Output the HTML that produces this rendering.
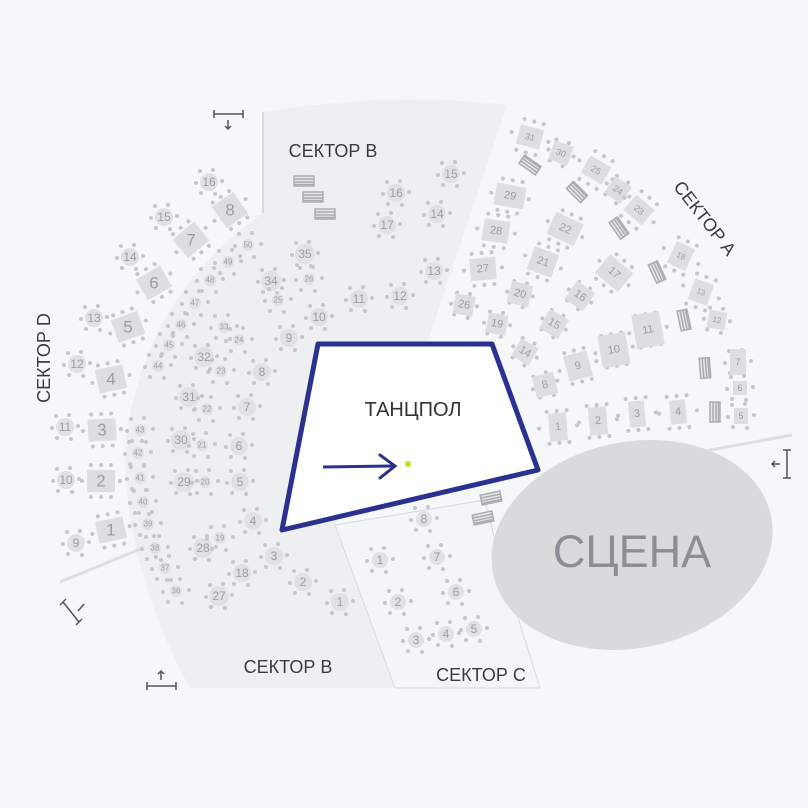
<!DOCTYPE html>
<html><head><meta charset="utf-8"><style>
html,body{margin:0;padding:0;background:#f6f7f9;}
svg{display:block;font-family:"Liberation Sans",sans-serif;}
.n{fill:#9a9ea4;text-anchor:middle;dominant-baseline:central;}
.rt{fill:#dcdee1;}
.ct{fill:#dfe1e4;}
.lb{fill:#3a3c40;font-size:18px;text-anchor:middle;}
</style></head><body>
<svg width="808" height="808" viewBox="0 0 808 808" xmlns="http://www.w3.org/2000/svg">
<defs>
<g id="rd" fill="#c3c6ca"><circle cx="-9" cy="-11" r="2"/><circle cx="4" cy="-12" r="2"/><circle cx="-13" cy="1" r="2"/><circle cx="13" cy="-1" r="2"/><circle cx="-8" cy="11" r="2"/><circle cx="6" cy="12" r="2"/></g>
<g id="rr" fill="#c3c6ca"><circle cx="-10" cy="-16" r="2"/><circle cx="0" cy="-16" r="2"/><circle cx="10" cy="-16" r="2"/><circle cx="-10" cy="16" r="2"/><circle cx="0" cy="16" r="2"/><circle cx="10" cy="16" r="2"/><circle cx="-19" cy="0" r="2"/><circle cx="19" cy="0" r="2"/></g>
<g id="bh" fill="none" stroke="#a9adb2" stroke-width="1.5"><rect x="-10" y="-5" width="20" height="10" fill="#e4e6e8"/><line x1="-10" y1="-2" x2="10" y2="-2"/><line x1="-10" y1="1" x2="10" y2="1"/><line x1="-10" y1="3.5" x2="10" y2="3.5"/></g>
<g id="bv" fill="none" stroke="#a9adb2" stroke-width="1.5"><rect x="-5" y="-10" width="10" height="20" fill="#e4e6e8"/><line x1="-2" y1="-10" x2="-2" y2="10"/><line x1="1" y1="-10" x2="1" y2="10"/><line x1="3.5" y1="-10" x2="3.5" y2="10"/></g>
</defs>
<rect width="808" height="808" fill="#f6f7f9"/>
<!-- sector B area -->
<path d="M263,112 Q390,92 507,105 L430,335 L335,525 L395,688 L190,688 Q125,570 125,450 Q140,300 263,213 Z" fill="#eeeff1"/>
<line x1="263" y1="112" x2="263" y2="213" stroke="#d8dadd" stroke-width="2"/>
<!-- sector C -->
<path d="M335,525 L485,500 L500,560 L540,688 L395,688 Z" fill="#f4f5f7" stroke="#d6d8db" stroke-width="1"/>
<line x1="700" y1="452" x2="792" y2="435" stroke="#dcdee1" stroke-width="3"/>
<line x1="60" y1="582" x2="143" y2="548" stroke="#dcdee1" stroke-width="3"/>
<!-- stage -->
<ellipse cx="632" cy="545" rx="142" ry="103" transform="rotate(-12 632 545)" fill="#d9dadc"/>
<text x="632" y="567" font-size="45" fill="#8a8f96" text-anchor="middle">СЦЕНА</text>
<!-- dance floor -->
<polygon points="318,344 492,344 538,470 282,530" fill="#fff" stroke="#2b3190" stroke-width="5" stroke-linejoin="round"/>
<text x="413" y="416" font-size="20" fill="#333" text-anchor="middle">ТАНЦПОЛ</text>
<line x1="323" y1="467" x2="393" y2="466" stroke="#2b3190" stroke-width="3"/>
<polyline points="380,455 395,466 380,478" fill="none" stroke="#2b3190" stroke-width="3" stroke-linecap="round"/>
<circle cx="408" cy="464" r="3" fill="#b6e11b"/>
<!-- labels -->
<text class="lb" x="333" y="157">СЕКТОР В</text>
<text class="lb" x="288" y="673">СЕКТОР В</text>
<text class="lb" x="481" y="681">СЕКТОР С</text>
<text class="lb" transform="translate(700,222) rotate(52)">СЕКТОР А</text>
<text class="lb" transform="translate(50,358) rotate(-90)">СЕКТОР D</text>
<!-- icons -->
<g stroke="#555" stroke-width="1.5" fill="none">
<path d="M214,114 H243 M214,110 V118 M243,110 V118"/><path d="M228,120 V129 M225,126 L228,129 L231,126"/>
<path d="M147,686 H176 M147,682 V690 M176,682 V690"/><path d="M161,680 V671 M158,674 L161,671 L164,674"/>
<path d="M787,450 V478 M783,450 H791 M783,478 H791"/><path d="M780,464 H772 M775,461 L772,464 L775,467"/>
<path d="M63,602 L79,622 M60,605 L66,599 M76,625 L82,619"/><path d="M78,611 L84,604"/>
</g>
<!-- Sector D rect tables -->
<g font-size="17">
<g transform="translate(230,210) rotate(-35)"><use href="#rr"/><rect class="rt" x="-13" y="-13" width="26" height="26"/><text class="n" transform="rotate(35)">8</text></g>
<g transform="translate(191,240) rotate(-40)"><use href="#rr"/><rect class="rt" x="-14" y="-12" width="28" height="24"/><text class="n" transform="rotate(40)">7</text></g>
<g transform="translate(154,283) rotate(-30)"><use href="#rr"/><rect class="rt" x="-14" y="-12" width="28" height="24"/><text class="n" transform="rotate(30)">6</text></g>
<g transform="translate(128,327) rotate(-20)"><use href="#rr"/><rect class="rt" x="-14" y="-12" width="28" height="24"/><text class="n" transform="rotate(20)">5</text></g>
<g transform="translate(111,379) rotate(-12)"><use href="#rr"/><rect class="rt" x="-14" y="-12" width="28" height="24"/><text class="n" transform="rotate(12)">4</text></g>
<g transform="translate(102,430) rotate(-3)"><use href="#rr"/><rect class="rt" x="-14" y="-11" width="28" height="22"/><text class="n">3</text></g>
<g transform="translate(101,481)"><use href="#rr"/><rect class="rt" x="-14" y="-11" width="28" height="22"/><text class="n">2</text></g>
<g transform="translate(111,530) rotate(-12)"><use href="#rr"/><rect class="rt" x="-14" y="-11" width="28" height="22"/><text class="n" transform="rotate(12)">1</text></g>
</g>
<g font-size="12">
<g transform="translate(209,182)"><use href="#rd"/><circle class="ct" r="9"/><text class="n">16</text></g>
<g transform="translate(164,217)"><use href="#rd"/><circle class="ct" r="9"/><text class="n">15</text></g>
<g transform="translate(130,257)"><use href="#rd"/><circle class="ct" r="9"/><text class="n">14</text></g>
<g transform="translate(94,318)"><use href="#rd"/><circle class="ct" r="9"/><text class="n">13</text></g>
<g transform="translate(77,364)"><use href="#rd"/><circle class="ct" r="9"/><text class="n">12</text></g>
<g transform="translate(65,427)"><use href="#rd"/><circle class="ct" r="9"/><text class="n">11</text></g>
<g transform="translate(66,480)"><use href="#rd"/><circle class="ct" r="9"/><text class="n">10</text></g>
<g transform="translate(76,543)"><use href="#rd"/><circle class="ct" r="9"/><text class="n">9</text></g>
<!-- Sector B -->
<g transform="translate(305,254)"><use href="#rd"/><circle class="ct" r="10"/><text class="n">35</text></g>
<g transform="translate(271,281)"><use href="#rd"/><circle class="ct" r="10"/><text class="n">34</text></g>
<g transform="translate(359,299)"><use href="#rd"/><circle class="ct" r="9"/><text class="n">11</text></g>
<g transform="translate(400,296)"><use href="#rd"/><circle class="ct" r="9"/><text class="n">12</text></g>
<g transform="translate(434,271)"><use href="#rd"/><circle class="ct" r="9"/><text class="n">13</text></g>
<g transform="translate(319,317)"><use href="#rd"/><circle class="ct" r="9"/><text class="n">10</text></g>
<g transform="translate(289,338)"><use href="#rd"/><circle class="ct" r="9"/><text class="n">9</text></g>
<g transform="translate(262,372)"><use href="#rd"/><circle class="ct" r="9"/><text class="n">8</text></g>
<g transform="translate(247,407)"><use href="#rd"/><circle class="ct" r="9"/><text class="n">7</text></g>
<g transform="translate(239,446)"><use href="#rd"/><circle class="ct" r="9"/><text class="n">6</text></g>
<g transform="translate(240,482)"><use href="#rd"/><circle class="ct" r="9"/><text class="n">5</text></g>
<g transform="translate(253,521)"><use href="#rd"/><circle class="ct" r="9"/><text class="n">4</text></g>
<g transform="translate(274,556)"><use href="#rd"/><circle class="ct" r="9"/><text class="n">3</text></g>
<g transform="translate(303,582)"><use href="#rd"/><circle class="ct" r="9"/><text class="n">2</text></g>
<g transform="translate(340,602)"><use href="#rd"/><circle class="ct" r="9"/><text class="n">1</text></g>
<g transform="translate(396,193)"><use href="#rd"/><circle class="ct" r="9"/><text class="n">16</text></g>
<g transform="translate(387,225)"><use href="#rd"/><circle class="ct" r="9"/><text class="n">17</text></g>
<g transform="translate(451,174)"><use href="#rd"/><circle class="ct" r="9"/><text class="n">15</text></g>
<g transform="translate(437,214)"><use href="#rd"/><circle class="ct" r="9"/><text class="n">14</text></g>
<g transform="translate(204,357)"><use href="#rd"/><circle class="ct" r="10"/><text class="n">32</text></g>
<g transform="translate(189,397)"><use href="#rd"/><circle class="ct" r="10"/><text class="n">31</text></g>
<g transform="translate(181,440)"><use href="#rd"/><circle class="ct" r="10"/><text class="n">30</text></g>
<g transform="translate(184,482)"><use href="#rd"/><circle class="ct" r="10"/><text class="n">29</text></g>
<g transform="translate(203,548)"><use href="#rd"/><circle class="ct" r="10"/><text class="n">28</text></g>
<g transform="translate(242,573)"><use href="#rd"/><circle class="ct" r="9"/><text class="n">18</text></g>
<g transform="translate(219,596)"><use href="#rd"/><circle class="ct" r="10"/><text class="n">27</text></g>
<!-- Sector C -->
<g transform="translate(424,519)"><use href="#rd"/><circle class="ct" r="8"/><text class="n">8</text></g>
<g transform="translate(437,557)"><use href="#rd"/><circle class="ct" r="8"/><text class="n">7</text></g>
<g transform="translate(456,592)"><use href="#rd"/><circle class="ct" r="8"/><text class="n">6</text></g>
<g transform="translate(474,629)"><use href="#rd"/><circle class="ct" r="8"/><text class="n">5</text></g>
<g transform="translate(446,634)"><use href="#rd"/><circle class="ct" r="8"/><text class="n">4</text></g>
<g transform="translate(416,640)"><use href="#rd"/><circle class="ct" r="8"/><text class="n">3</text></g>
<g transform="translate(398,602)"><use href="#rd"/><circle class="ct" r="8"/><text class="n">2</text></g>
<g transform="translate(380,560)"><use href="#rd"/><circle class="ct" r="8"/><text class="n">1</text></g>
</g>
<g font-size="8">
<g transform="translate(248,245)"><use href="#rd"/><circle class="ct" r="6"/><text class="n">50</text></g>
<g transform="translate(228,262)"><use href="#rd"/><circle class="ct" r="6"/><text class="n">49</text></g>
<g transform="translate(210,280)"><use href="#rd"/><circle class="ct" r="6"/><text class="n">48</text></g>
<g transform="translate(195,303)"><use href="#rd"/><circle class="ct" r="6"/><text class="n">47</text></g>
<g transform="translate(181,325)"><use href="#rd"/><circle class="ct" r="6"/><text class="n">46</text></g>
<g transform="translate(169,345)"><use href="#rd"/><circle class="ct" r="6"/><text class="n">45</text></g>
<g transform="translate(158,366)"><use href="#rd"/><circle class="ct" r="6"/><text class="n">44</text></g>
<g transform="translate(140,430)"><use href="#rd"/><circle class="ct" r="6"/><text class="n">43</text></g>
<g transform="translate(138,453)"><use href="#rd"/><circle class="ct" r="6"/><text class="n">42</text></g>
<g transform="translate(140,478)"><use href="#rd"/><circle class="ct" r="6"/><text class="n">41</text></g>
<g transform="translate(143,502)"><use href="#rd"/><circle class="ct" r="6"/><text class="n">40</text></g>
<g transform="translate(148,524)"><use href="#rd"/><circle class="ct" r="6"/><text class="n">39</text></g>
<g transform="translate(155,548)"><use href="#rd"/><circle class="ct" r="6"/><text class="n">38</text></g>
<g transform="translate(165,568)"><use href="#rd"/><circle class="ct" r="6"/><text class="n">37</text></g>
<g transform="translate(176,591)"><use href="#rd"/><circle class="ct" r="6"/><text class="n">36</text></g>
<g transform="translate(309,279)"><use href="#rd"/><circle class="ct" r="6"/><text class="n">26</text></g>
<g transform="translate(278,300)"><use href="#rd"/><circle class="ct" r="6"/><text class="n">25</text></g>
<g transform="translate(224,327)"><use href="#rd"/><circle class="ct" r="6"/><text class="n">33</text></g>
<g transform="translate(239,340)"><use href="#rd"/><circle class="ct" r="6"/><text class="n">24</text></g>
<g transform="translate(221,371)"><use href="#rd"/><circle class="ct" r="6"/><text class="n">23</text></g>
<g transform="translate(207,409)"><use href="#rd"/><circle class="ct" r="6"/><text class="n">22</text></g>
<g transform="translate(202,445)"><use href="#rd"/><circle class="ct" r="6"/><text class="n">21</text></g>
<g transform="translate(205,482)"><use href="#rd"/><circle class="ct" r="6"/><text class="n">20</text></g>
<g transform="translate(220,538)"><use href="#rd"/><circle class="ct" r="6"/><text class="n">19</text></g>
</g>
<!-- benches -->
<use href="#bh" x="304" y="181"/><use href="#bh" x="313" y="197"/><use href="#bh" x="325" y="214"/>
<use href="#bh" transform="translate(491,498) rotate(-12)"/><use href="#bh" transform="translate(483,518) rotate(-12)"/>
<use href="#bv" transform="translate(530,165) rotate(-55)"/>
<use href="#bv" transform="translate(577,192) rotate(-45)"/>
<use href="#bv" transform="translate(619,228) rotate(-35)"/>
<use href="#bv" transform="translate(657,272) rotate(-25)"/>
<use href="#bv" transform="translate(684,320) rotate(-12)"/>
<use href="#bv" transform="translate(705,368) rotate(-5)"/>
<use href="#bv" transform="translate(715,412)"/>
<!-- Sector A tables -->
<g font-size="11">
<g transform="translate(530,137) rotate(15)"><use href="#rr"/><rect class="rt" x="-12" y="-10" width="24" height="20"/><text class="n" font-size="9">31</text></g>
<g transform="translate(561,153) rotate(20)"><use href="#rd"/><rect class="rt" x="-10" y="-10" width="20" height="20"/><text class="n" font-size="9">30</text></g>
<g transform="translate(596,170) rotate(30)"><use href="#rr"/><rect class="rt" x="-12" y="-10" width="24" height="20"/><text class="n" font-size="9">25</text></g>
<g transform="translate(618,190) rotate(35)"><use href="#rd"/><rect class="rt" x="-10" y="-10" width="20" height="20"/><text class="n" font-size="9">24</text></g>
<g transform="translate(639,210) rotate(40)"><use href="#rr"/><rect class="rt" x="-12" y="-10" width="24" height="20"/><text class="n" font-size="9">23</text></g>
<g transform="translate(510,196) rotate(10)"><use href="#rr"/><rect class="rt" x="-15" y="-11" width="30" height="22"/><text class="n">29</text></g>
<g transform="translate(496,231) rotate(8)"><use href="#rr"/><rect class="rt" x="-13" y="-11" width="26" height="22"/><text class="n">28</text></g>
<g transform="translate(483,269) rotate(-5)"><use href="#rr"/><rect class="rt" x="-13" y="-11" width="26" height="22"/><text class="n">27</text></g>
<g transform="translate(464,305) rotate(10)"><use href="#rd"/><rect class="rt" x="-10" y="-10" width="20" height="20"/><text class="n">26</text></g>
<g transform="translate(565,229) rotate(25)"><use href="#rr"/><rect class="rt" x="-15" y="-12" width="30" height="24"/><text class="n">22</text></g>
<g transform="translate(543,262) rotate(20)"><use href="#rr"/><rect class="rt" x="-13" y="-12" width="26" height="24"/><text class="n">21</text></g>
<g transform="translate(520,294) rotate(15)"><use href="#rd"/><rect class="rt" x="-11" y="-11" width="22" height="22"/><text class="n">20</text></g>
<g transform="translate(497,324) rotate(10)"><use href="#rd"/><rect class="rt" x="-10" y="-10" width="20" height="20"/><text class="n">19</text></g>
<g transform="translate(614,273) rotate(40)"><use href="#rr"/><rect class="rt" x="-15" y="-12" width="30" height="24"/><text class="n">17</text></g>
<g transform="translate(580,296) rotate(35)"><use href="#rd"/><rect class="rt" x="-11" y="-11" width="22" height="22"/><text class="n">16</text></g>
<g transform="translate(554,324) rotate(30)"><use href="#rd"/><rect class="rt" x="-11" y="-11" width="22" height="22"/><text class="n">15</text></g>
<g transform="translate(525,352) rotate(30)"><use href="#rd"/><rect class="rt" x="-10" y="-10" width="20" height="20"/><text class="n">14</text></g>
<g transform="translate(681,256) rotate(25)"><use href="#rr"/><rect class="rt" x="-10" y="-12" width="20" height="24"/><text class="n" font-size="8">18</text></g>
<g transform="translate(701,292) rotate(20)"><use href="#rr"/><rect class="rt" x="-10" y="-11" width="20" height="22"/><text class="n" font-size="8">13</text></g>
<g transform="translate(717,320) rotate(10)"><use href="#rd"/><rect class="rt" x="-9" y="-9" width="18" height="18"/><text class="n" font-size="8">12</text></g>
<g transform="translate(648,330) rotate(-10)"><use href="#rr"/><rect class="rt" x="-14" y="-17" width="28" height="34"/><text class="n">11</text></g>
<g transform="translate(614,350) rotate(-10)"><use href="#rr"/><rect class="rt" x="-14" y="-16" width="28" height="32"/><text class="n">10</text></g>
<g transform="translate(578,366) rotate(-15)"><use href="#rr"/><rect class="rt" x="-12" y="-13" width="24" height="26"/><text class="n">9</text></g>
<g transform="translate(545,385) rotate(-15)"><use href="#rd"/><rect class="rt" x="-11" y="-11" width="22" height="22"/><text class="n">8</text></g>
<g transform="translate(738,362)"><use href="#rd"/><rect class="rt" x="-8" y="-13" width="16" height="26"/><text class="n" font-size="9">7</text></g>
<g transform="translate(740,388)"><use href="#rd"/><rect class="rt" x="-7" y="-7" width="14" height="14"/><text class="n" font-size="9">6</text></g>
<g transform="translate(741,416)"><use href="#rd"/><rect class="rt" x="-7" y="-8" width="14" height="16"/><text class="n" font-size="9">5</text></g>
<g transform="translate(678,412) rotate(-5)"><use href="#rr"/><rect class="rt" x="-8" y="-12" width="16" height="24"/><text class="n">4</text></g>
<g transform="translate(637,414) rotate(-5)"><use href="#rr"/><rect class="rt" x="-8" y="-13" width="16" height="26"/><text class="n">3</text></g>
<g transform="translate(598,421) rotate(-5)"><use href="#rr"/><rect class="rt" x="-9" y="-14" width="18" height="28"/><text class="n">2</text></g>
<g transform="translate(558,427) rotate(-5)"><use href="#rr"/><rect class="rt" x="-9" y="-14" width="18" height="28"/><text class="n">1</text></g>
</g>
</svg>
</body></html>
